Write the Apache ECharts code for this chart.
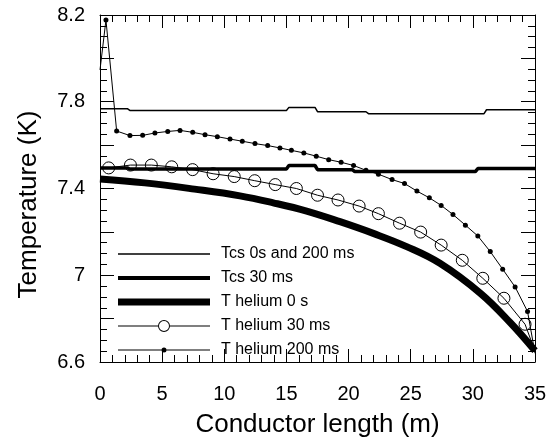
<!DOCTYPE html>
<html><head><meta charset="utf-8">
<script src="https://cdn.jsdelivr.net/npm/echarts@6/dist/echarts.min.js"></script>
<style>html,body{margin:0;padding:0;background:#fff}#c{width:555px;height:443px}</style>
</head><body><div id="c"></div>
<script>
// ---- data ----
const seriesNames = ['Tcs 0s and 200 ms', 'Tcs 30 ms', 'T helium 0 s', 'T helium 30 ms', 'T helium 200 ms'];
const xTickLabels = ['0', '5', '10', '15', '20', '25', '30', '35'];
const yTickLabels = ['6.6', '7', '7.4', '7.8', '8.2'];

const tcsBaseX = [0, 2.2, 2.4, 15.0, 15.2, 17.3, 17.5, 21.4, 21.6, 30.9, 31.1, 35];
const tcsBaseY = [7.768, 7.768, 7.760, 7.760, 7.774, 7.774, 7.754, 7.754, 7.745, 7.745, 7.763, 7.763];

const tcs30X = [0, 2.2, 2.4, 15.0, 15.2, 17.3, 17.5, 20.3, 20.5, 30.2, 30.4, 35];
const tcs30Y = [7.495, 7.495, 7.490, 7.490, 7.506, 7.506, 7.487, 7.487, 7.478, 7.478, 7.492, 7.492];

const he0X = [0, 3.6, 7.6, 11.26, 13.94, 16.63, 19.31, 21.99, 24.67, 27.35, 30.6, 33.0, 35];
const he0Y = [7.444, 7.426, 7.397, 7.366, 7.334, 7.296, 7.247, 7.193, 7.132, 7.055, 6.917, 6.782, 6.652];

const he30X = [0.7, 2.45, 4.13, 5.77, 7.45, 9.1, 10.8, 12.45, 14.1, 15.8, 17.5, 19.15, 20.85, 22.4, 24.1, 25.8, 27.45, 29.15, 30.8, 32.5, 34.2, 35];
const he30Y = [7.495, 7.508, 7.508, 7.500, 7.487, 7.468, 7.455, 7.436, 7.418, 7.400, 7.369, 7.347, 7.319, 7.284, 7.240, 7.199, 7.139, 7.069, 6.986, 6.894, 6.774, 6.650];

const he200X = [0, 0.48, 1.34, 2.41, 3.43, 4.42, 5.45, 6.44, 7.46, 8.45, 9.44, 10.46, 11.45, 12.47, 13.49, 14.48, 15.4, 16.4, 17.4, 18.4, 19.4, 20.4, 21.4, 22.4, 23.5, 24.5, 25.5, 26.5, 27.45, 28.4, 29.4, 30.4, 31.4, 32.4, 33.4, 34.4, 35];
const he200Y = [7.947, 8.177, 7.665, 7.644, 7.645, 7.656, 7.663, 7.668, 7.659, 7.648, 7.639, 7.628, 7.618, 7.607, 7.598, 7.587, 7.576, 7.564, 7.549, 7.533, 7.521, 7.506, 7.484, 7.466, 7.441, 7.423, 7.388, 7.357, 7.322, 7.280, 7.231, 7.181, 7.109, 7.028, 6.946, 6.833, 6.640];

// ---- helpers ----
function zip(xs, ys) { return xs.map((x, i) => [x, ys[i]]); }
function noEndSymbols(pts, first, last) {
  return pts.map((p, i) => ((first && i === 0) || (last && i === pts.length - 1)) ? { value: p, symbol: 'none' } : p);
}
const FONT = 'Liberation Sans, Arial, Helvetica, sans-serif';
const BLACK = '#000';

const chart = echarts.init(document.getElementById('c'), null, { renderer: 'canvas' });

const xMain = {
  type: 'value', min: 0, max: 35, interval: 5, position: 'bottom',
  axisLine: { show: true, onZero: false, lineStyle: { color: BLACK, width: 1 } },
  axisTick: { show: true, inside: true, length: 13, lineStyle: { color: BLACK } },
  minorTick: { show: true, splitNumber: 5, length: 7, lineStyle: { color: BLACK } },
  splitLine: { show: false },
  axisLabel: {
    show: true, margin: 22, color: BLACK, fontFamily: FONT, fontSize: 20,
    formatter: v => { const s = String(Math.round(v)); return xTickLabels.includes(s) ? s : ''; }
  },
  name: 'Conductor length (m)', nameLocation: 'middle', nameGap: 50,
  nameTextStyle: { color: BLACK, fontFamily: FONT, fontSize: 26 }
};
const xTop = {
  type: 'value', min: 0, max: 35, interval: 5, position: 'top',
  axisLine: { show: true, onZero: false, lineStyle: { color: BLACK, width: 1 } },
  axisTick: { show: true, inside: true, length: 13, lineStyle: { color: BLACK } },
  minorTick: { show: true, splitNumber: 5, length: 7, lineStyle: { color: BLACK } },
  splitLine: { show: false }, axisLabel: { show: false }
};
const yMain = {
  type: 'value', min: 6.6, max: 8.2, interval: 0.2, position: 'left',
  axisLine: { show: true, onZero: false, lineStyle: { color: BLACK, width: 1 } },
  axisTick: { show: true, inside: true, length: 14, lineStyle: { color: BLACK } },
  minorTick: { show: true, splitNumber: 4, length: 7, lineStyle: { color: BLACK } },
  splitLine: { show: false },
  axisLabel: {
    show: true, margin: 15, color: BLACK, fontFamily: FONT, fontSize: 20, padding: [8, 0, 0, 0],
    formatter: v => { const s = String(+v.toFixed(1)); return yTickLabels.includes(s) ? s : ''; }
  },
  name: 'Temperature (K)', nameLocation: 'middle', nameGap: 58,
  nameTextStyle: { color: BLACK, fontFamily: FONT, fontSize: 26, padding: [0, 32, 0, 0] }
};
const yRight = {
  type: 'value', min: 6.6, max: 8.2, interval: 0.2, position: 'right',
  axisLine: { show: true, onZero: false, lineStyle: { color: BLACK, width: 1 } },
  axisTick: { show: true, inside: true, length: 14, lineStyle: { color: BLACK } },
  minorTick: { show: true, splitNumber: 4, length: 7, lineStyle: { color: BLACK } },
  splitLine: { show: false }, axisLabel: { show: false }
};

const legendIcons = [
  'path://M0,0H92V1.5H0Z',
  'path://M0,0H92V4H0Z',
  'path://M0,0H92V7H0Z',
  'path://M0,6.5H40V7.5H0Z M52,6.5H92V7.5H52Z M40,7A6,6 0 1,1 52,7A6,6 0 1,1 40,7Z M41,7A5,5 0 1,0 51,7A5,5 0 1,0 41,7Z',
  'path://M0,6.5H43.5V7.5H0Z M48.5,6.5H92V7.5H48.5Z M43.5,7A2.5,2.5 0 1,1 48.5,7A2.5,2.5 0 1,1 43.5,7Z'
];

const option = {
  animation: false,
  backgroundColor: '#fff',
  grid: { left: 100, right: 20, top: 15, bottom: 80 },
  xAxis: [xMain, xTop],
  yAxis: [yMain, yRight],
  legend: {
    orient: 'vertical', left: 113, top: 241, padding: 5,
    itemWidth: 92, itemHeight: 14, itemGap: 8,
    selectedMode: false,
    textStyle: { color: BLACK, fontFamily: FONT, fontSize: 16, lineHeight: 16, padding: [0, 0, 0, 6] },
    data: seriesNames.map((n, i) => ({ name: n, icon: legendIcons[i], itemStyle: { color: BLACK, borderWidth: 0 } }))
  },
  series: [
    {
      name: seriesNames[2], type: 'line', data: zip(he0X, he0Y), showSymbol: false, symbol: 'none',
      smooth: 0.4,
      lineStyle: { color: BLACK, width: 7, cap: 'butt', join: 'round' }, itemStyle: { color: BLACK }, z: 2
    },
    {
      name: seriesNames[0], type: 'line', data: zip(tcsBaseX, tcsBaseY), symbol: 'none',
      lineStyle: { color: BLACK, width: 1.5 }, itemStyle: { color: BLACK }, z: 3
    },
    {
      name: seriesNames[1], type: 'line', data: zip(tcs30X, tcs30Y), symbol: 'none',
      lineStyle: { color: BLACK, width: 3.5 }, itemStyle: { color: BLACK }, z: 3
    },
    {
      name: seriesNames[3], type: 'line', data: noEndSymbols(zip(he30X, he30Y), false, true),
      symbol: 'circle', symbolSize: 12, showAllSymbol: true,
      lineStyle: { color: BLACK, width: 1 },
      itemStyle: { color: 'rgba(255,255,255,0)', borderColor: BLACK, borderWidth: 1 }, z: 4
    },
    {
      name: seriesNames[4], type: 'line', data: noEndSymbols(zip(he200X, he200Y), true, true),
      symbol: 'circle', symbolSize: 5, showAllSymbol: true,
      lineStyle: { color: BLACK, width: 1 },
      itemStyle: { color: BLACK, borderWidth: 0 }, z: 4
    }
  ]
};
chart.setOption(option);
</script>
</body></html>
